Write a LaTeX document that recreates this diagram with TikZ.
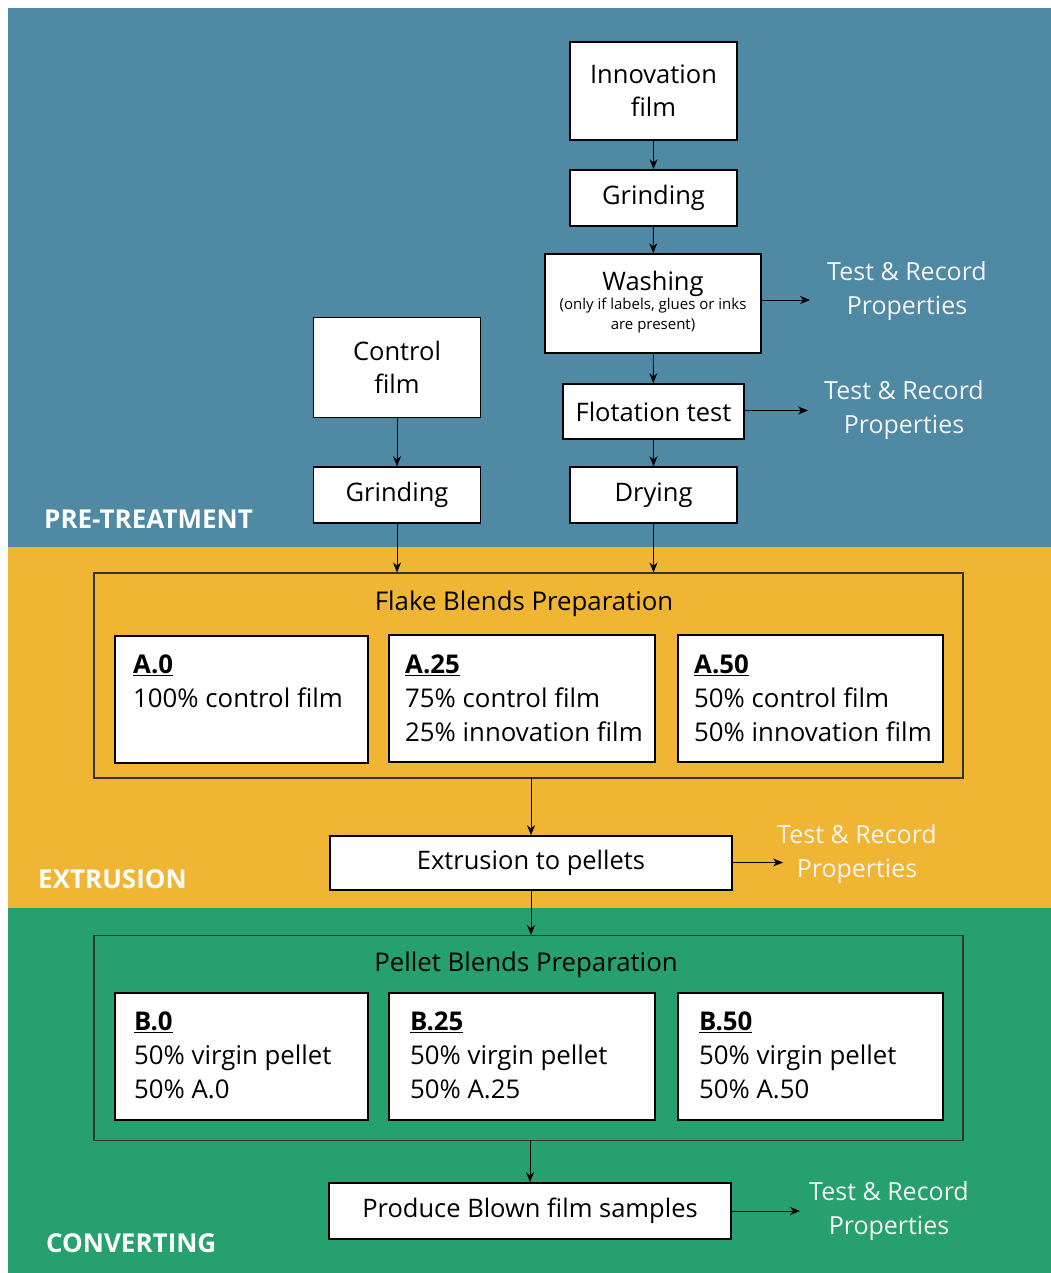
\documentclass[tikz,border=0pt]{standalone}
\usepackage{fontspec}
\setmainfont{Open Sans}
\usetikzlibrary{arrows.meta}
\definecolor{bluebg}{RGB}{79,137,163}
\definecolor{yellowbg}{RGB}{241,181,52}
\definecolor{greenbg}{RGB}{37,160,110}
\definecolor{offwhite}{RGB}{244,244,244}
\begin{document}
\begin{tikzpicture}[x=1pt,y=-1pt,
  box/.style={draw=black, line width=1.6pt, fill=white, inner sep=0pt, align=center,
    font=\fontsize{25.5}{33}\selectfont},
  group/.style={draw=black!80, line width=1.1pt, inner sep=0pt},
  conn/.style={line width=0.9pt, -{Stealth[length=10pt,width=8pt]}},
  note/.style={text=offwhite, align=center, font=\fontsize{25}{34}\selectfont, inner sep=0pt},
  phase/.style={text=white, anchor=base west, inner sep=0pt, font=\fontsize{26}{30}\selectfont\bfseries},
  line/.style={anchor=base west, inner sep=0pt, font=\fontsize{25.8}{30}\selectfont},
  title/.style={inner sep=0pt, font=\fontsize{25.8}{30}\selectfont}]
\useasboundingbox (0,0) rectangle (1051,1273);
\fill[bluebg] (8,8) rectangle (1051,547);
\fill[yellowbg] (8,547) rectangle (1051,908);
\fill[greenbg] (8,908) rectangle (1051,1273);

% pre-treatment
\node[box, minimum width=167, minimum height=98] (innov) at (653.5,91) {Innovation\\film};
\node[box, minimum width=167, minimum height=56] (grindA) at (653.5,198) {Grinding};
\node[box, minimum width=216, minimum height=99] (wash) at (653,303.5) {};
\node[inner sep=0pt, font=\fontsize{25.5}{30}\selectfont, anchor=base] (washT) at (653,290) {Washing};
\node[inner sep=0pt, align=center, font=\fontsize{15}{20}\selectfont, anchor=north] (washS) at (653,297.5) {(only if labels, glues or inks\\are present)};
\node[box, minimum width=181, minimum height=55] (flot) at (653.5,411.5) {Flotation test};
\node[box, minimum width=167, minimum height=56] (dry) at (653.5,495) {Drying};
\node[box, minimum width=167, minimum height=100] (control) at (397,367.5) {Control\\film};
\node[box, minimum width=167, minimum height=56] (grindB) at (397,495) {Grinding};

\coordinate (washT1) at (810,300);
\coordinate (flotT1) at (808,410.5);
\node[note] (washN) at (907,291) {Test \& Record\\Properties};
\node[note] (flotN) at (904,410) {Test \& Record\\Properties};
\node[phase] (pre) at (44,528) {PRE-TREATMENT};

\draw[conn] (innov) -- (grindA);
\draw[conn] (grindA) -- (wash);
\draw[conn] (wash) -- (flot);
\draw[conn] (flot) -- (dry);
\draw[conn] (control) -- (grindB);
\draw[conn] (wash.east |- washT1) -- (washT1);
\draw[conn] (flot.east |- flotT1) -- (flotT1);

% extrusion
\node[group, minimum width=869, minimum height=205] (flake) at (528.5,675.5) {};
\node[title] (flakeT) at (524,604) {Flake Blends Preparation};
\node[box, minimum width=253, minimum height=127] (a0) at (241.5,699.5) {};
\node[box, minimum width=266, minimum height=127] (a25) at (522,698.5) {};
\node[box, minimum width=265, minimum height=127] (a50) at (810.5,698.5) {};
\node[line] (a0h) at (133,673) {\underline{\textbf{A.0}}};
\node[line] (a0l1) at (133,707) {100\% control film};
\node[line] (a25h) at (405,673) {\underline{\textbf{A.25}}};
\node[line] (a25l1) at (405,707) {75\% control film};
\node[line] (a25l2) at (405,741) {25\% innovation film};
\node[line] (a50h) at (694,673) {\underline{\textbf{A.50}}};
\node[line] (a50l1) at (694,707) {50\% control film};
\node[line] (a50l2) at (694,741) {50\% innovation film};

\draw[conn] (grindB) -- (grindB |- flake.north);
\draw[conn] (dry) -- (dry |- flake.north);

\node[box, minimum width=402, minimum height=54] (extr) at (531,863) {Extrusion to pellets};
\coordinate (extrT1) at (783,862.5);
\node[note] (extrN) at (857,854) {Test \& Record\\Properties};
\node[phase] (extrP) at (38,888) {EXTRUSION};
\draw[conn] (extr |- flake.south) -- (extr);
\draw[conn] (extr.east |- extrT1) -- (extrT1);

% converting
\node[group, minimum width=869, minimum height=205] (pellet) at (528.5,1038) {};
\node[title] (pelletT) at (526,965) {Pellet Blends Preparation};
\node[box, minimum width=253, minimum height=127] (b0) at (241.5,1056.5) {};
\node[box, minimum width=266, minimum height=127] (b25) at (522,1056.5) {};
\node[box, minimum width=265, minimum height=127] (b50) at (810.5,1056.5) {};
\node[line] (b0h) at (134,1030) {\underline{\textbf{B.0}}};
\node[line] (b0l1) at (134,1064) {50\% virgin pellet};
\node[line] (b0l2) at (134,1098) {50\% A.0};
\node[line] (b25h) at (410,1030) {\underline{\textbf{B.25}}};
\node[line] (b25l1) at (410,1064) {50\% virgin pellet};
\node[line] (b25l2) at (410,1098) {50\% A.25};
\node[line] (b50h) at (699,1030) {\underline{\textbf{B.50}}};
\node[line] (b50l1) at (699,1064) {50\% virgin pellet};
\node[line] (b50l2) at (699,1098) {50\% A.50};
\draw[conn] (extr) -- (extr |- pellet.north);

\node[box, minimum width=402, minimum height=56] (blown) at (530,1211) {Produce Blown film samples};
\coordinate (blownT1) at (800,1211);
\node[note] (blownN) at (889,1211) {Test \& Record\\Properties};
\node[phase] (conv) at (46,1252) {CONVERTING};
\draw[conn] (blown |- pellet.south) -- (blown);
\draw[conn] (blown.east |- blownT1) -- (blownT1);
\end{tikzpicture}
\end{document}
